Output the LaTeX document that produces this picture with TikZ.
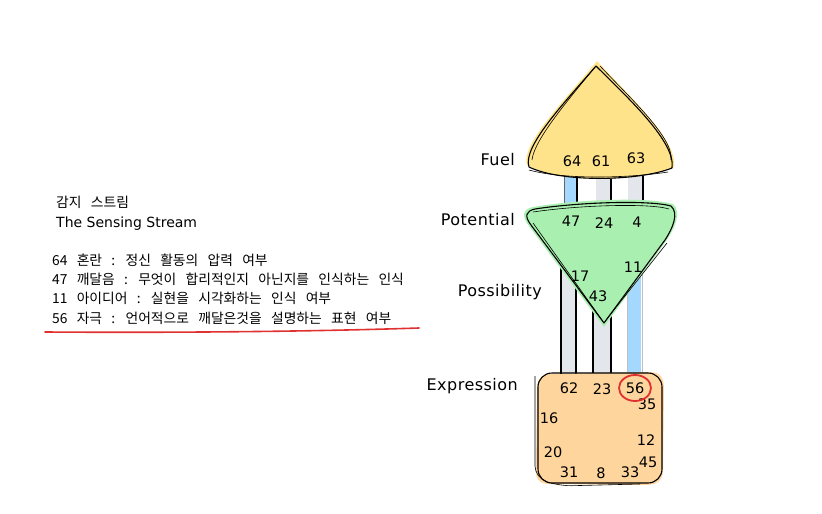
\documentclass[tikz,border=0pt]{standalone}
\usepackage{fontspec}
\setmainfont{Noto Sans CJK KR}
\newfontfamily\krtext[WordSpace=3]{Noto Sans CJK KR}
\newfontfamily\handfont{DejaVu Sans}
\newfontfamily\tagfont[LetterSpace=3]{DejaVu Sans}
\usetikzlibrary{positioning,calc}
\definecolor{fuelyellow}{HTML}{FFE38A}
\definecolor{potgreen}{HTML}{A9EFB0}
\definecolor{expborange}{HTML}{FFD59E}
\definecolor{colblue}{HTML}{A5D8FF}
\definecolor{colgrey}{HTML}{E3E6EA}
\definecolor{markred}{HTML}{E03131}

\begin{document}
\begin{tikzpicture}[
    x=1pt, y=-1pt,
    every node/.style={inner sep=0pt},
    num/.style={font=\handfont\fontsize{14.5}{16}\selectfont},
    tag/.style={anchor=east, font=\tagfont\fontsize{16}{18}\selectfont},
    legend/.style={anchor=west, font=\krtext\fontsize{13.8}{15}\selectfont},
    outline/.style={draw=black, line width=1.1pt, line join=round},
    sketch/.style={draw=black, line width=0.6pt, line join=round},
    coledge/.style={draw=black, line width=1.3pt}
]
\useasboundingbox (0,0) rectangle (822,514);

% columns
\fill[colblue] (565,176) rectangle (576,212);
\fill[colgrey] (596,176) rectangle (610,212);
\fill[colgrey] (628,176) rectangle (642,212);
\draw[coledge] (577,176) -- (577,212);
\draw[coledge] (611,176) -- (611,212);
\draw[coledge] (643,176) -- (643,212);
\draw[black!60, line width=0.5pt] (564,176) -- (564,212);

\fill[colgrey] (561,260) rectangle (576,380);
\fill[colgrey] (593,300) rectangle (611,380);
\fill[colblue] (628,250) rectangle (641,378);
\draw[coledge] (561,260) -- (561,378);
\draw[coledge] (576,260) -- (576,378);
\draw[coledge] (593,300) -- (593,378);
\draw[coledge] (611,300) -- (611,378);
\draw[coledge] (592,378) -- (612,378);
\draw[black!25, line width=1pt] (627,250) -- (627,376) (642,250) -- (642,376);

% fuel
\fill[fuelyellow] (597,61) .. controls (565,100) and (520,145) .. (527,165)
    .. controls (560,184) and (640,182) .. (674,167)
    .. controls (678,140) and (628,95) .. (597,61) -- cycle;
\draw[outline] (596,66) .. controls (565,102) and (522,147) .. (529,167)
    .. controls (562,183) and (640,181) .. (672,168)
    .. controls (676,142) and (628,98) .. (596,66);
\draw[sketch] (600,66) .. controls (630,98) and (674,138) .. (671,160)
    (596,66) .. controls (568,100) and (534,140) .. (532,160)
    (529,170) .. controls (565,180) and (630,178) .. (668,172);

% potential
\fill[potgreen] (533,207) .. controls (580,199) and (650,197) .. (673,204)
    .. controls (682,212) and (675,228) .. (666,241) -- (604,327)
    -- (529,226) .. controls (521,216) and (523,209) .. (533,207) -- cycle;
\draw[outline] (535,209) .. controls (580,202) and (650,200) .. (671,206)
    .. controls (679,213) and (673,228) .. (665,240) -- (604,323)
    -- (531,225) .. controls (524,216) and (526,211) .. (535,209) -- cycle;
\draw[sketch] (533,212) .. controls (580,205) and (650,203) .. (669,209)
    (533,223) -- (602,320)
    (667,243) -- (606,320);

% expression
\fill[expborange] (551,374) -- (650,372) .. controls (662,372) and (664,380) .. (664,390)
    -- (663,470) .. controls (663,482) and (655,485) .. (645,485)
    -- (550,484) .. controls (538,484) and (535,478) .. (536,466)
    -- (537,390) .. controls (537,378) and (542,374) .. (551,374) -- cycle;
\draw[outline, rounded corners=14pt] (538,373) rectangle (662,483);
\draw[sketch, rounded corners=12pt] (535,376) -- (535,478) -- (560,486) -- (640,484);

% labels
\node[tag] (fuel) at (515,160) {Fuel};
\node[tag] (potential) at (515,220) {Potential};
\node[tag] (possibility) at (542,292) {Possibility};
\node[tag] (expression) at (518,386) {Expression};

\node[num] (F64) at (572,161) {64};
\node[num] (F61) at (601,161) {61};
\node[num] (F63) at (636,158) {63};

\node[num] (P47) at (571,221) {47};
\node[num] (P24) at (604,223) {24};
\node[num] (P4) at (637,222) {4};
\node[num] (P17) at (580,276) {17};
\node[num] (P11) at (633,267) {11};
\node[num] (P43) at (598,296) {43};

\node[num] (E62) at (569,388) {62};
\node[num] (E23) at (602,389) {23};
\node[num] (E56) at (635,388) {56};
\node[num] (E35) at (647,404) {35};
\node[num] (E16) at (549,418) {16};
\node[num] (E12) at (646,440) {12};
\node[num] (E20) at (553,452) {20};
\node[num] (E45) at (648,462) {45};
\node[num] (E31) at (569,472) {31};
\node[num] (E8) at (601,473) {8};
\node[num] (E33) at (630,472) {33};

\draw[markred, line width=1.8pt] (E56) ellipse [x radius=16, y radius=13];

% legend
\node[legend] (title) at (56,202) {감지 스트림};
\node[legend, font=\handfont\fontsize{14}{16}\selectfont] (subtitle) at (56,224) {The Sensing Stream};
\node[legend] (L64) at (52,260) {64 혼란 : 정신 활동의 압력 여부};
\node[legend] (L47) at (52,279) {47 깨달음 : 무엇이 합리적인지 아닌지를 인식하는 인식};
\node[legend] (L11) at (52,298) {11 아이디어 : 실현을 시각화하는 인식 여부};
\node[legend] (L56) at (52,318) {56 자극 : 언어적으로 깨달은것을 설명하는 표현 여부};
\draw[markred, line width=1.6pt, line cap=round]
    ([xshift=-7pt, yshift=-14pt]L56.west) .. controls (200,333) and (330,331) .. (419,328);

\end{tikzpicture}
\end{document}
